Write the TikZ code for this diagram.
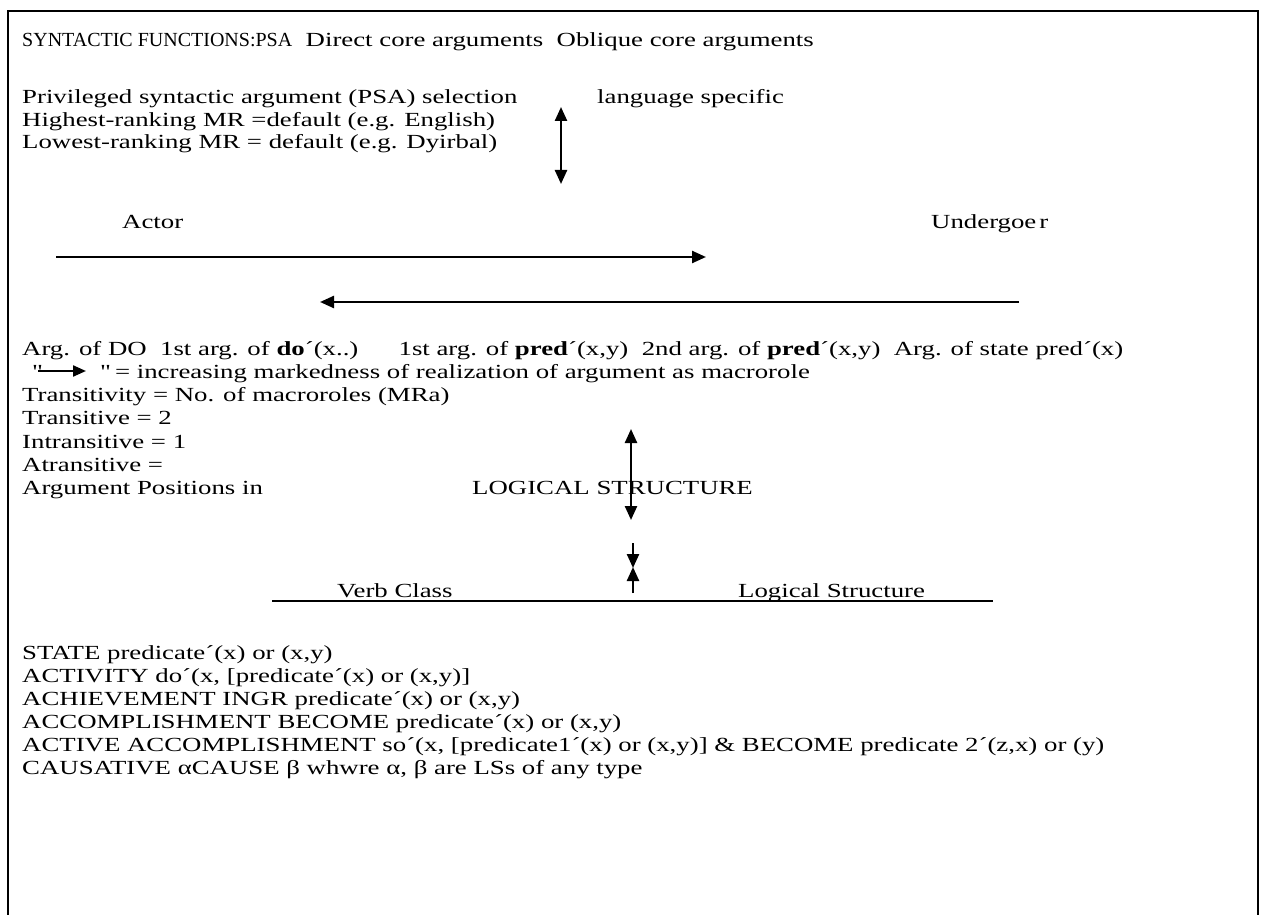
\documentclass[tikz,border=0pt]{standalone}
\usepackage{fontspec}
\setmainfont{Liberation Serif}[FakeStretch=1.34]
\newfontfamily\capsfont{Liberation Serif}
\usetikzlibrary{arrows.meta}
\begin{document}
\begin{tikzpicture}[x=1pt,y=-1pt,
  txt/.style={anchor=base west,inner sep=0pt,font=\fontsize{20}{23}\selectfont},
  arr/.style={line width=2.4pt,-{Triangle[length=14pt,width=12pt]}},
  darr/.style={line width=2.4pt,{Triangle[length=14pt,width=12pt]}-{Triangle[length=14pt,width=12pt]}},
  frame/.style={line width=2.2pt}]
\useasboundingbox (0,0) rectangle (1262,915);
% outer frame, open at the bottom
\draw[frame] (8,916) -- (8,11) -- (1258,11) -- (1258,916);

% heading and PSA selection
\node[txt] (head) at (22,47) {{\capsfont\fontsize{20}{23}\selectfont SYNTACTIC FUNCTIONS:PSA}\ \ Direct core arguments\ \ Oblique core arguments};
\node[txt] (psa) at (22,104) {Privileged syntactic argument (PSA) selection};
\node[txt] (lang) at (597,104) {language specific};
\node[txt] (high) at (22,127) {Highest-ranking MR =default (e.g. English)};
\node[txt] (low) at (22,149) {Lowest-ranking MR = default (e.g. Dyirbal)};
\coordinate (ps1) at (561,107);
\coordinate (ps2) at (561,184);
\draw[darr] (ps1) -- (ps2);

% macrorole continuum
\node[txt] (actor) at (122,229) {Actor};
\node[txt] (under) at (931,229) {Undergoe\hspace{3pt}r};
\coordinate (a1) at (56,257);
\coordinate (a2) at (706,257);
\draw[arr] (a1) -- (a2);
\coordinate (u1) at (1019,302);
\coordinate (u2) at (320,302);
\draw[arr] (u1) -- (u2);

\node[txt] (args) at (22,355) {Arg. of DO\ \ 1st arg. of \textbf{do}´(x..)\ \ \ \ \ \ 1st arg. of \textbf{pred}´(x,y)\ \ 2nd arg. of \textbf{pred}´(x,y)\ \ Arg. of state pred´(x)};
\node[txt] (q1) at (32,378) {\textquotedbl};
\node[txt] (mark) at (100,378) {\textquotedbl\ = increasing markedness of realization of argument as macrorole};
\coordinate (m1) at (38,371);
\coordinate (m2) at (86,371);
\draw[line width=2.2pt,-{Triangle[length=13pt,width=11pt]}] (m1) -- (m2);

% transitivity
\node[txt] (trans) at (22,401) {Transitivity = No. of macroroles (MRa)};
\node[txt] (t2) at (22,424) {Transitive = 2};
\node[txt] (t1) at (22,448) {Intransitive = 1};
\node[txt] (t0) at (22,471) {Atransitive =};
\node[txt] (argpos) at (22,494) {Argument Positions in};
\node[txt] (ls) at (472,494) {LOGICAL STRUCTURE};
\coordinate (ls1) at (631,429);
\coordinate (ls2) at (631,520);
\draw[darr] (ls1) -- (ls2);
\coordinate (d1) at (633,543);
\coordinate (d2) at (633,568);
\draw[arr] (d1) -- (d2);
\coordinate (e1) at (633,593);
\coordinate (e2) at (633,567);
\draw[arr] (e1) -- (e2);

% verb classes table
\node[txt] (vc) at (337,597) {Verb Class};
\node[txt] (lsh) at (738,597) {Logical Structure};
\coordinate (r1) at (272,601);
\coordinate (r2) at (993,601);
\draw[line width=2pt] (r1) -- (r2);

\node[txt] (state) at (22,659) {STATE predicate´(x) or (x,y)};
\node[txt] (act) at (22,682) {ACTIVITY do´(x, [predicate´(x) or (x,y)]};
\node[txt] (ach) at (22,705) {ACHIEVEMENT INGR predicate´(x) or (x,y)};
\node[txt] (acc) at (22,728) {ACCOMPLISHMENT BECOME predicate´(x) or (x,y)};
\node[txt] (aacc) at (22,751) {ACTIVE ACCOMPLISHMENT so´(x, [predicate1´(x) or (x,y)] \& BECOME predicate 2´(z,x) or (y)};
\node[txt] (caus) at (22,774) {CAUSATIVE αCAUSE β whwre α, β are LSs of any type};
\end{tikzpicture}
\end{document}
